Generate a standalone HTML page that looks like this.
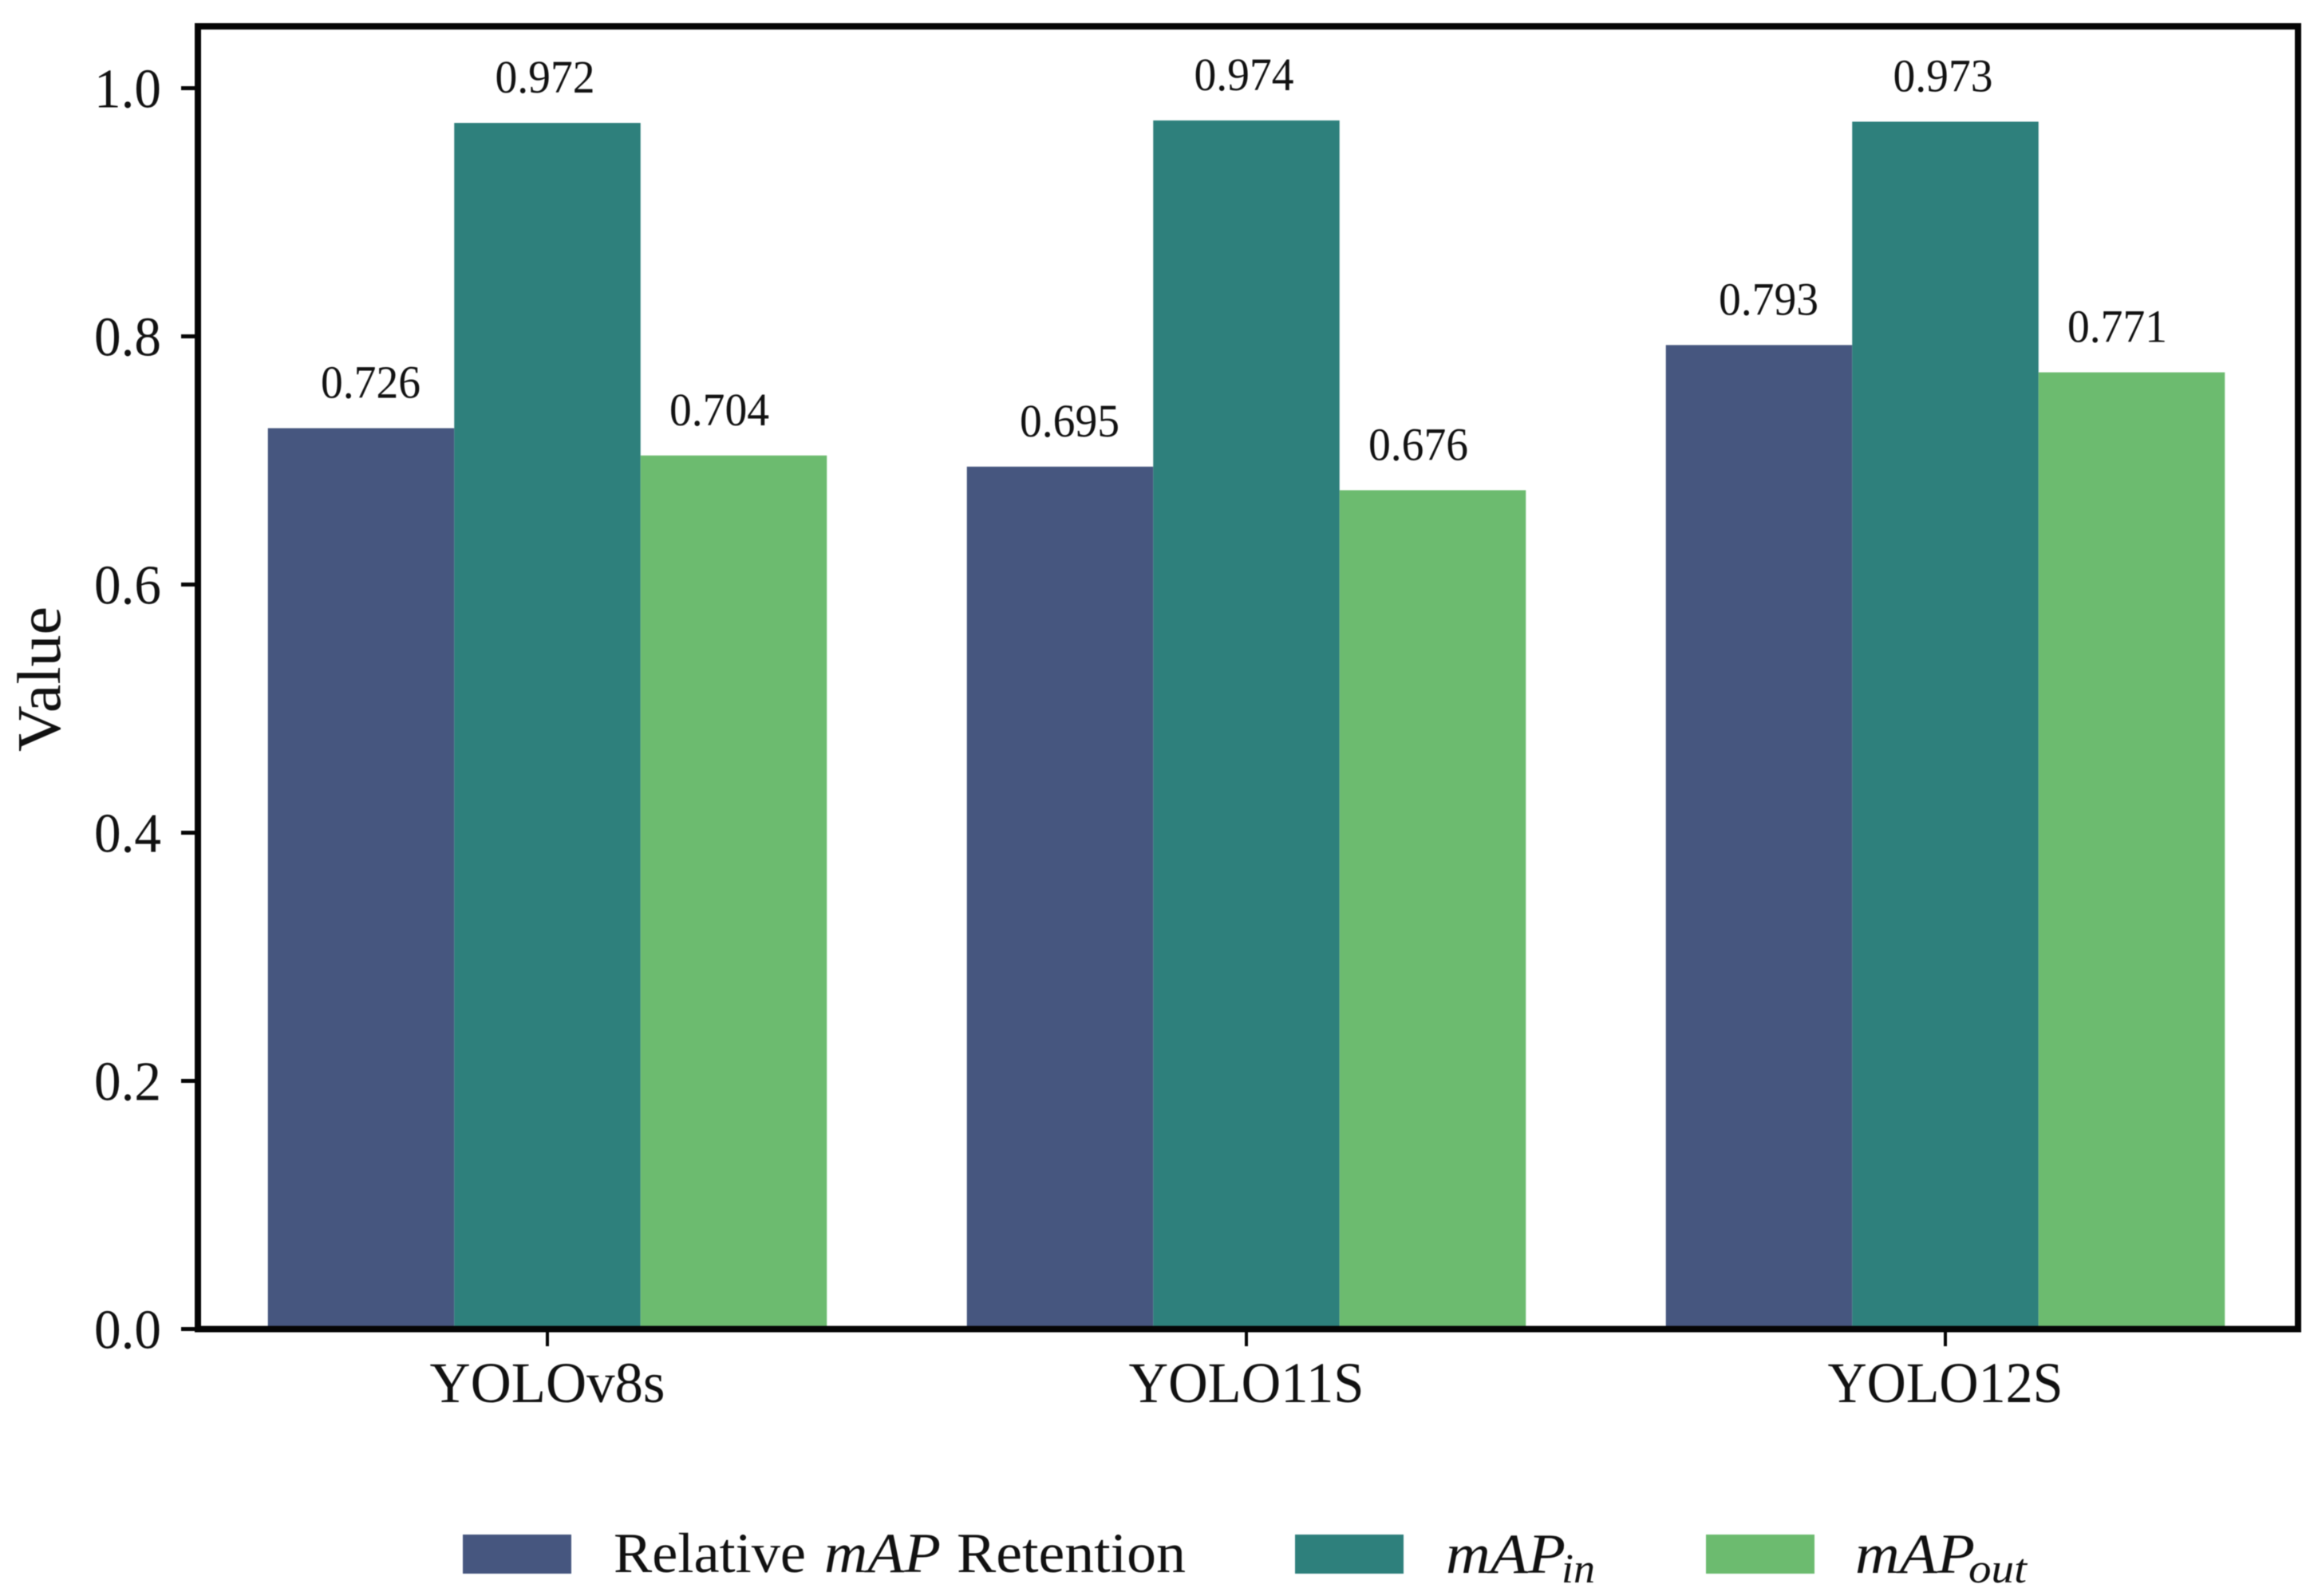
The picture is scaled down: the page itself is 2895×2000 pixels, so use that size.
<!DOCTYPE html>
<html lang="en">
<head>
<meta charset="utf-8">
<title>Relative mAP Retention by YOLO model</title>
<style>
html,body{margin:0;padding:0;background:#fff;}
svg{display:block;filter:blur(0.6px);}
text{font-family:"Liberation Serif",serif;fill:#111;}
</style>
</head>
<body>
<svg id="chart" xmlns="http://www.w3.org/2000/svg" width="2895" height="2000" viewBox="0 0 2895 2000">
  <rect x="0" y="0" width="2895" height="2000" fill="#ffffff"/>
  <g id="bars"></g>
  <g id="value-labels"></g>
  <g id="y-axis"></g>
  <g id="x-axis"></g>
  <rect x="248" y="33" width="2632" height="1632.5" fill="none" stroke="#050505" stroke-width="8"/>
  <text transform="translate(75,942) rotate(-90)" font-size="77" textLength="182" lengthAdjust="spacingAndGlyphs">Value</text>
  <g>
    <g>
      <rect x="580" y="1923" width="136" height="49" fill="#46567f"/>
      <text x="769" y="1970" font-size="71" textLength="241" lengthAdjust="spacingAndGlyphs">Relative</text>
      <text x="1033" y="1970" font-size="71" font-style="italic" textLength="146" lengthAdjust="spacingAndGlyphs">mAP</text>
      <text x="1199" y="1970" font-size="71" textLength="287" lengthAdjust="spacingAndGlyphs">Retention</text>
    </g>
    <g>
      <rect x="1623" y="1923" width="136" height="49" fill="#2e807c"/>
      <text x="1812" y="1971" font-size="71" font-style="italic" textLength="150" lengthAdjust="spacingAndGlyphs">mAP</text>
      <text x="1957" y="1983" font-size="52" font-style="italic" textLength="42" lengthAdjust="spacingAndGlyphs">in</text>
    </g>
    <g>
      <rect x="2138" y="1923" width="136" height="49" fill="#6cbb6f"/>
      <text x="2325" y="1971" font-size="71" font-style="italic" textLength="150" lengthAdjust="spacingAndGlyphs">mAP</text>
      <text x="2467" y="1983" font-size="52" font-style="italic" textLength="73" lengthAdjust="spacingAndGlyphs">out</text>
    </g>
  </g>
</svg>
<script>
const categories = ['YOLOv8s', 'YOLO11S', 'YOLO12S'];
const seriesNames = ['relative-map-retention', 'map-in', 'map-out'];
const relativeRetention = [0.726, 0.695, 0.793];
const mapIn = [0.972, 0.974, 0.973];
const mapOut = [0.704, 0.676, 0.771];
const yTickLabels = ['0.0', '0.2', '0.4', '0.6', '0.8', '1.0'];

const SVG_NS = 'http://www.w3.org/2000/svg';
const seriesValues = [relativeRetention, mapIn, mapOut];
const seriesColors = ['#46567f', '#2e807c', '#6cbb6f'];
const labelShift = [12, -3, -18];
const barWidth = 233.5;

function yScale(v) { return 1665.5 - 1555 * v; }
function xScale(i) { return 686 + 876 * i; }
function barLeft(i, s) { return xScale(i) + (s - 1.5) * barWidth; }

const barsGroup = document.getElementById('bars');
const valueGroup = document.getElementById('value-labels');
const yGroup = document.getElementById('y-axis');
const xGroup = document.getElementById('x-axis');

seriesValues.forEach(function (values, s) {
  values.forEach(function (v, i) {
    const bar = document.createElementNS(SVG_NS, 'rect');
    
    
    bar.setAttribute('x', barLeft(i, s));
    bar.setAttribute('y', yScale(v));
    bar.setAttribute('width', barWidth);
    bar.setAttribute('height', yScale(0) - yScale(v));
    bar.setAttribute('fill', seriesColors[s]);
    barsGroup.appendChild(bar);

    const label = document.createElementNS(SVG_NS, 'text');
    
    
    label.setAttribute('x', barLeft(i, s) + barWidth / 2 + labelShift[s]);
    label.setAttribute('y', yScale(v) - 38);
    label.setAttribute('text-anchor', 'middle');
    label.setAttribute('font-size', '58');
    label.setAttribute('textLength', '125');
    label.setAttribute('lengthAdjust', 'spacingAndGlyphs');
    label.textContent = v.toFixed(3);
    valueGroup.appendChild(label);
  });
});

yTickLabels.forEach(function (t) {
  const v = parseFloat(t);
  const tick = document.createElementNS(SVG_NS, 'line');
  
  
  tick.setAttribute('x1', 227);
  tick.setAttribute('x2', 248);
  tick.setAttribute('y1', yScale(v));
  tick.setAttribute('y2', yScale(v));
  tick.setAttribute('stroke', '#050505');
  tick.setAttribute('stroke-width', '5');
  yGroup.appendChild(tick);

  const label = document.createElementNS(SVG_NS, 'text');
  
  
  label.setAttribute('x', 202);
  label.setAttribute('y', yScale(v) + 24);
  label.setAttribute('text-anchor', 'end');
  label.setAttribute('font-size', '70');
  label.setAttribute('textLength', '84');
  label.setAttribute('lengthAdjust', 'spacingAndGlyphs');
  label.textContent = t;
  yGroup.appendChild(label);
});

categories.forEach(function (c, i) {
  const tick = document.createElementNS(SVG_NS, 'line');
  
  
  tick.setAttribute('x1', xScale(i));
  tick.setAttribute('x2', xScale(i));
  tick.setAttribute('y1', 1665.5);
  tick.setAttribute('y2', 1687);
  tick.setAttribute('stroke', '#050505');
  tick.setAttribute('stroke-width', '4');
  xGroup.appendChild(tick);

  const label = document.createElementNS(SVG_NS, 'text');
  
  
  label.setAttribute('x', xScale(i));
  label.setAttribute('y', 1757);
  label.setAttribute('text-anchor', 'middle');
  label.setAttribute('font-size', '72');
  label.setAttribute('textLength', '295');
  label.setAttribute('lengthAdjust', 'spacingAndGlyphs');
  label.textContent = c;
  xGroup.appendChild(label);
});
</script>
</body>
</html>
